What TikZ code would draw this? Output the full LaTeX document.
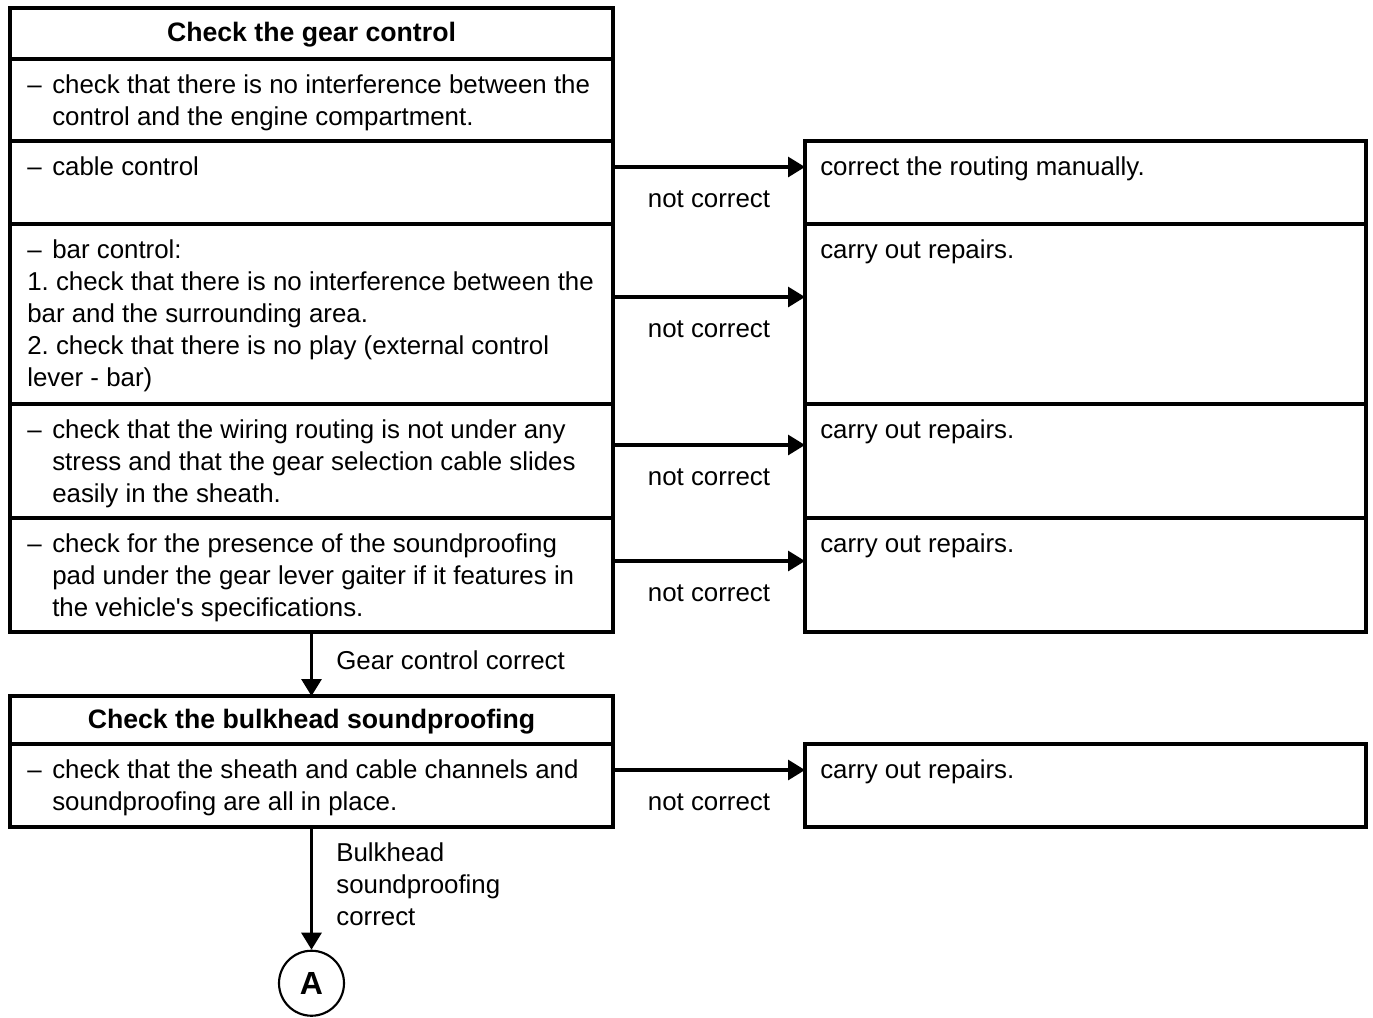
\documentclass[tikz,border=0pt]{standalone}
\usepackage{fontspec}
\setmainfont{Liberation Sans}
\usetikzlibrary{arrows.meta, positioning}

\newcommand{\dashmark}{\makebox[18.75pt][l]{–}}
\newcommand{\cont}{\hspace*{18.75pt}}

\begin{document}
\fontsize{19.4}{24}\selectfont
\begin{tikzpicture}[
    x=1pt, y=1pt,
    box node/.style={draw, rectangle, line width=2.3pt, inner sep=0pt, outer sep=0pt},
    left box/.style={box node, minimum width=452.25pt},
    right box/.style={box node, minimum width=420.75pt},
    head node/.style={left box, minimum height=38.25pt, text height=15.5pt, text depth=3pt,
                      font=\fontsize{20}{24}\selectfont\bfseries},
    text node/.style={anchor=north west, inner sep=0pt, align=left},
    arrow/.style={-{Triangle[length=12.75pt, width=15pt]}, line width=2.3pt},
    label node/.style={midway, below=10.3pt}
]
\useasboundingbox (0,0) rectangle (1029.75,-762.75);

% Left column
\node[head node, anchor=north west] (h1) at (7.5,-6) {Check the gear control};
\node[left box, minimum height=61.5pt, below=0pt of h1] (b2) {};
\node[left box, minimum height=62.25pt, below=0pt of b2] (b3) {};
\node[left box, minimum height=135pt, below=0pt of b3] (b4) {};
\node[left box, minimum height=85.5pt, below=0pt of b4] (b5) {};
\node[left box, minimum height=85.5pt, below=0pt of b5] (b6) {};
\node[head node, minimum height=36pt, below=48pt of b6] (h2) {Check the bulkhead soundproofing};
\node[left box, minimum height=62.25pt, below=0pt of h2] (b8) {};

% Right column
\node[right box, minimum height=62.25pt, right=144pt of b3.north east, anchor=north west] (r1) {};
\node[right box, minimum height=135pt, below=0pt of r1] (r2) {};
\node[right box, minimum height=85.5pt, below=0pt of r2] (r3) {};
\node[right box, minimum height=85.5pt, below=0pt of r3] (r4) {};
\node[right box, minimum height=62.25pt, right=144pt of b8.north east, anchor=north west] (r5) {};

% End of the chart
\node[circle, draw, line width=1.6pt, minimum size=48.75pt, inner sep=0pt,
      font=\fontsize{24}{24}\selectfont\bfseries, below=92pt of b8] (A) {A};

% Box texts
\node[text node] (t2) at ([shift={(12.75pt,-11.5pt)}]b2.north west)
    {\dashmark check that there is no interference between the\\\cont control and the engine compartment.};
\node[text node] (t3) at ([shift={(12.75pt,-11.5pt)}]b3.north west) {\dashmark cable control};
\node[text node] (t4) at ([shift={(12.75pt,-11.5pt)}]b4.north west)
    {\dashmark bar control:\\1.\ check that there is no interference between the\\bar and the surrounding area.\\2.\ check that there is no play (external control\\lever - bar)};
\node[text node] (t5) at ([shift={(12.75pt,-11.5pt)}]b5.north west)
    {\dashmark check that the wiring routing is not under any\\\cont stress and that the gear selection cable slides\\\cont easily in the sheath.};
\node[text node] (t6) at ([shift={(12.75pt,-11.5pt)}]b6.north west)
    {\dashmark check for the presence of the soundproofing\\\cont pad under the gear lever gaiter if it features in\\\cont the vehicle\textquotesingle s specifications.};
\node[text node] (t8) at ([shift={(12.75pt,-11.5pt)}]b8.north west)
    {\dashmark check that the sheath and cable channels and\\\cont soundproofing are all in place.};
\node[text node] (s1) at ([shift={(11.25pt,-11.5pt)}]r1.north west) {correct the routing manually.};
\node[text node] (s2) at ([shift={(11.25pt,-11.5pt)}]r2.north west) {carry out repairs.};
\node[text node] (s3) at ([shift={(11.25pt,-11.5pt)}]r3.north west) {carry out repairs.};
\node[text node] (s4) at ([shift={(11.25pt,-11.5pt)}]r4.north west) {carry out repairs.};
\node[text node] (s5) at ([shift={(11.25pt,-11.5pt)}]r5.north west) {carry out repairs.};

% Horizontal arrows
\draw[arrow] ([yshift=-19.5pt]b3.north east) -- node[label node] {not correct} ([yshift=-19.5pt]r1.north west);
\draw[arrow] ([yshift=-54.75pt]b4.north east) -- node[label node] {not correct} ([yshift=-54.75pt]r2.north west);
\draw[arrow] ([yshift=-30.75pt]b5.north east) -- node[label node] {not correct} ([yshift=-30.75pt]r3.north west);
\draw[arrow] ([yshift=-32.25pt]b6.north east) -- node[label node] {not correct} ([yshift=-32.25pt]r4.north west);
\draw[arrow] ([yshift=-19.5pt]b8.north east) -- node[label node] {not correct} ([yshift=-19.5pt]r5.north west);

% Vertical arrows
\draw[arrow] (b6.south) -- node[midway, right=11pt, yshift=3pt] {Gear control correct} (h2.north);
\draw[arrow] (b8.south) -- node[midway, right=11pt, align=left, yshift=3pt] {Bulkhead\\soundproofing\\correct} (A.north);
\end{tikzpicture}
\end{document}
